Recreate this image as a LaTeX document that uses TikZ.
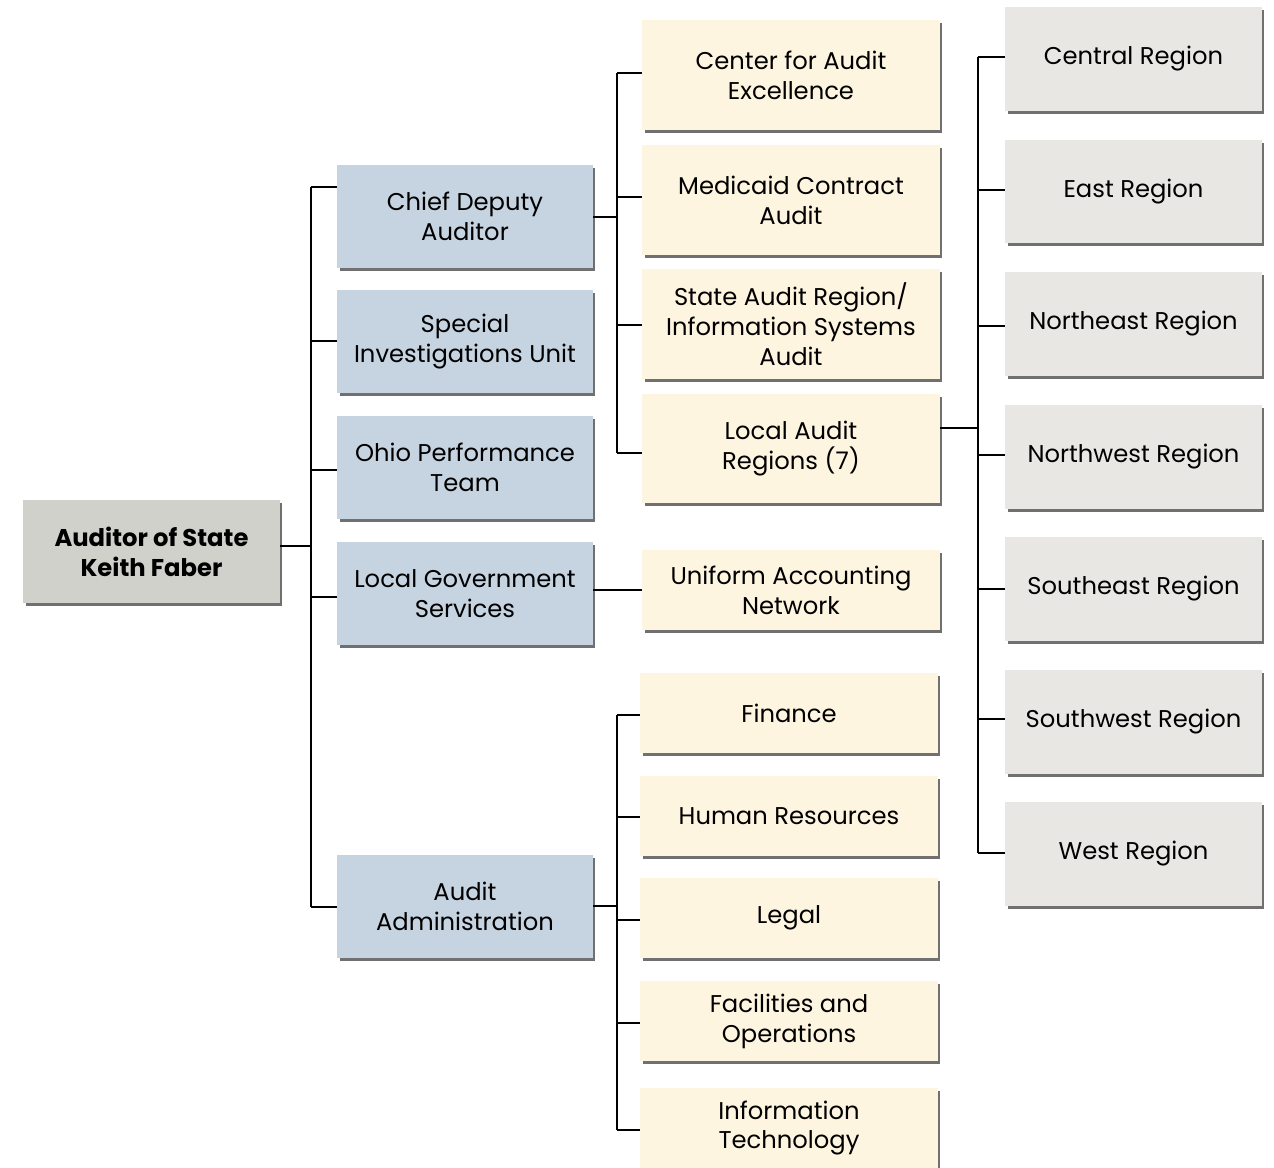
\documentclass[tikz,border=0pt]{standalone}
\usepackage{fontspec}
\setmainfont{Poppins}
\usetikzlibrary{positioning,shadows}

\definecolor{rootgray}{HTML}{CFD1CA}
\definecolor{deptblue}{HTML}{C6D3E0}
\definecolor{unityellow}{HTML}{FEF5E0}
\definecolor{regiongray}{HTML}{E8E7E4}

\begin{document}
\begin{tikzpicture}[x=0.02cm, y=-0.02cm,
    font=\fontsize{13.8}{17}\selectfont,
    box/.style={align=center, inner sep=2pt,
        drop shadow={shadow xshift=0.05cm, shadow yshift=-0.06cm, fill=black!70, opacity=0.8}},
    rootbox/.style={box, fill=rootgray, minimum width=5.14cm, minimum height=2.06cm, font=\fontsize{13.8}{17}\selectfont\bfseries},
    deptbox/.style={box, fill=deptblue, minimum width=5.12cm, minimum height=2.06cm},
    unitbox/.style={box, fill=unityellow, minimum width=5.96cm, minimum height=2.2cm},
    smallunit/.style={box, fill=unityellow, minimum width=5.96cm, minimum height=1.6cm},
    regionbox/.style={box, fill=regiongray, minimum width=5.14cm, minimum height=2.08cm},
    link/.style={line width=1.2pt},
    thinlink/.style={line width=0.7pt}]
    \useasboundingbox (0,0) rectangle (1274,1167);

    % Auditor of State
    \node[rootbox] (root) at (151.5,551.5) {Auditor of State\\Keith Faber};

    % Departments
    \node[deptbox] (cda) at (465,216.5) {Chief Deputy\\Auditor};
    \node[deptbox] (siu) at (465,341.5) {Special\\Investigations Unit};
    \node[deptbox] (opt) at (465,467.5) {Ohio Performance\\Team};
    \node[deptbox] (lgs) at (465,593.5) {Local Government\\Services};
    \node[deptbox] (adm) at (465,906.5) {Audit\\Administration};

    % Units under Chief Deputy Auditor
    \node[unitbox] (cae) at (791,75) {Center for Audit\\Excellence};
    \node[unitbox] (mca) at (791,200) {Medicaid Contract\\Audit};
    \node[unitbox] (sar) at (791,324) {State Audit Region/\\Information Systems\\Audit};
    \node[unitbox] (lar) at (791,448.5) {Local Audit\\Regions (7)};

    % Local Government Services
    \node[smallunit] (uan) at (791,590) {Uniform Accounting\\Network};

    % Units under Audit Administration
    \node[smallunit] (fin) at (789,713) {Finance};
    \node[smallunit] (hr) at (789,816) {Human Resources};
    \node[smallunit] (leg) at (789,918) {Legal};
    \node[smallunit] (fac) at (789,1021) {Facilities and\\Operations};
    \node[smallunit] (its) at (789,1128) {Information\\Technology};

    % Regions
    \node[regionbox] (cen) at (1133.5,59) {Central Region};
    \node[regionbox] (eas) at (1133.5,191.5) {East Region};
    \node[regionbox] (nea) at (1133.5,324) {Northeast Region};
    \node[regionbox] (nwe) at (1133.5,457) {Northwest Region};
    \node[regionbox] (sea) at (1133.5,589) {Southeast Region};
    \node[regionbox] (swe) at (1133.5,721.5) {Southwest Region};
    \node[regionbox] (wes) at (1133.5,854) {West Region};

    % Connectors
    \coordinate (bus0) at (311,0);
    \coordinate (bus1) at (617,0);
    \coordinate (bus2) at (978,0);

    \draw[link] (root.east |- 0,546) -- (bus0 |- 0,546);
    \draw[link] (bus0 |- 0,187) -- (bus0 |- 0,907);
    \foreach \n/\y in {cda/187, siu/341, opt/470, lgs/597, adm/907}
        \draw[link] (bus0 |- 0,\y) -- (\n.west |- 0,\y);

    \draw[link] (cda.east |- 0,217) -- (bus1 |- 0,217);
    \draw[link] (bus1 |- 0,73) -- (bus1 |- 0,453);
    \foreach \n/\y in {cae/73, mca/197, sar/325, lar/453}
        \draw[link] (bus1 |- 0,\y) -- (\n.west |- 0,\y);

    \draw[link] (lgs.east |- 0,590) -- (uan.west |- 0,590);

    \draw[link] (adm.east |- 0,906) -- (bus1 |- 0,906);
    \draw[link] (bus1 |- 0,715) -- (bus1 |- 0,1130);
    \foreach \n/\y in {fin/715, hr/817, leg/920, fac/1023, its/1130}
        \draw[link] (bus1 |- 0,\y) -- (\n.west |- 0,\y);

    \draw[thinlink] (lar.east |- 0,428) -- (bus2 |- 0,428);
    \draw[thinlink] (bus2 |- 0,57) -- (bus2 |- 0,853);
    \foreach \n/\y in {cen/57, eas/190, nea/326, nwe/455, sea/589, swe/719, wes/853}
        \draw[thinlink] (bus2 |- 0,\y) -- (\n.west |- 0,\y);
\end{tikzpicture}
\end{document}
